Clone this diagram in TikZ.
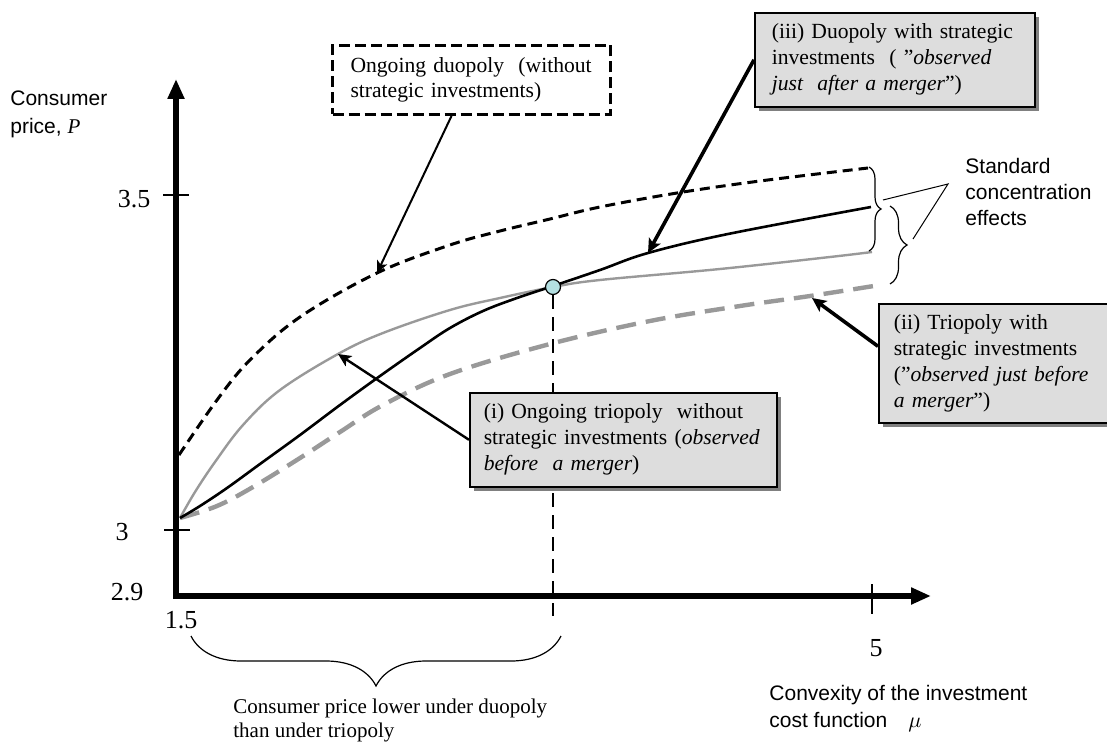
\documentclass[tikz,border=0pt]{standalone}
\usepackage{fontspec}
\setmainfont{Liberation Serif}
\setsansfont{Liberation Sans}
\usetikzlibrary{arrows.meta,shadows,decorations.pathreplacing}
\definecolor{dotcyan}{RGB}{180,224,226}
\definecolor{curvegray}{RGB}{153,153,153}
\definecolor{notegray}{RGB}{221,221,221}

\begin{document}
\begin{tikzpicture}[x=0.5pt,y=-0.5pt]
\useasboundingbox (0,0) rectangle (1107,743);
\tikzset{AxisStyle/.style={line width=2.6pt,{Triangle[length=10pt,width=8pt]}-{Triangle[length=10pt,width=8pt]}}}
\tikzset{TickStyle/.style={inner sep=0pt,font=\fontsize{13}{15}\selectfont}}
\tikzset{SansStyle/.style={inner sep=0pt,anchor=west,align=left,font=\sffamily\fontsize{10.5}{13}\selectfont}}
\tikzset{TextStyle/.style={inner sep=0pt,anchor=west,align=left,font=\fontsize{10.5}{12}\selectfont}}
\tikzset{NoteStyle/.style={draw=black,line width=0.8pt,fill=notegray,anchor=north west,align=left,inner ysep=0pt,font=\fontsize{10.8}{13}\selectfont,drop shadow={shadow xshift=2.2pt,shadow yshift=-2.2pt,fill=black!50,opacity=1}}}
\tikzset{DashNoteStyle/.style={draw=black,line width=1.5pt,dash pattern=on 5.5pt off 2.5pt,fill=white,anchor=north west,align=left,inner ysep=0pt,font=\fontsize{10.8}{12.5}\selectfont}}
\coordinate (ytop) at (176,79);
\coordinate (orig) at (176,596);
\coordinate (xend) at (931,596);
\draw[AxisStyle] (ytop) -- (orig) -- (xend);
\draw[line width=0.6pt] (163,195) -- (189,195);
\draw[line width=0.6pt] (164,530) -- (190,530);
\draw[line width=0.6pt] (872,584) -- (872,614);
\node[TickStyle] (p35) at (134,199) {3.5};
\node[TickStyle] (p3) at (122,532) {3};
\node[TickStyle] (p29) at (127,592) {2.9};
\node[TickStyle] (m15) at (181,620) {1.5};
\node[TickStyle] (m5) at (876,648) {5};
\node[SansStyle,font=\sffamily\fontsize{10.5}{14}\selectfont] (ylabel) at (10,114) {Consumer\\price, \textrm{\textit{P}}};
\node[SansStyle,font=\sffamily\fontsize{10.5}{13.5}\selectfont] (xlabel) at (769,709) {Convexity of the investment\\cost function\quad$\mu$};
\node[SansStyle,font=\sffamily\fontsize{10.5}{12.8}\selectfont] (std) at (965,192) {Standard\\concentration\\effects};
\node[TextStyle] (lower) at (233,720) {Consumer price lower under duopoly\\than under triopoly};
\draw[curvegray,line width=2.2pt,dash pattern=on 10pt off 5pt] plot[smooth,tension=0.6] coordinates {(180,518) (217,506) (253,487) (300,458) (340,432) (383,405) (450,374) (550,344) (650,321) (740,306) (810,296) (880,285)};
\draw[curvegray,line width=1.2pt] plot[smooth,tension=0.6] coordinates {(180,518) (195,492) (215,462) (243,425) (280,390) (338,354) (383,333) (450,310) (500,298) (553,287) (600,280) (720,269) (830,257) (872,252)};
\draw[black,line width=1.3pt] plot[smooth,tension=0.6] coordinates {(180,518) (200,506) (227,488) (260,464) (300,435) (340,405) (380,376) (420,348) (450,328) (483,311) (517,298) (553,286) (600,270) (648,253) (728,234) (871,207)};
\draw[black,line width=1.5pt,dash pattern=on 5pt off 3pt] plot[smooth,tension=0.6] coordinates {(179,455) (217,400) (250,360) (300,317) (377,273) (450,245) (500,231) (550,219) (600,207) (677,193) (760,181) (868,168)};
\coordinate (duo-target) at (377,273);
\coordinate (duo-inv-target) at (648,253);
\coordinate (tri-target) at (338,354);
\coordinate (tri-inv-target) at (812,298);
\coordinate (cross-foot) at (553,616);
\node[circle,draw=black,line width=0.6pt,fill=dotcyan,minimum size=7.5pt,inner sep=0pt] (cross) at (553,287) {};
\draw[line width=0.7pt,dash pattern=on 7pt off 4pt] (cross) -- (cross-foot);
\coordinate (bra-left) at (191,636);
\coordinate (bra-right) at (561,636);
\draw[line width=0.6pt,decorate,decoration={brace,mirror,amplitude=25pt}] (bra-left) -- (bra-right);
\coordinate (bra-top1) at (869,167);
\coordinate (bra-bot1) at (869,251);
\draw[line width=0.6pt,decorate,decoration={brace,amplitude=6pt}] (bra-top1) -- (bra-bot1);
\coordinate (bra-top2) at (890,206);
\coordinate (bra-bot2) at (890,284);
\draw[line width=0.6pt,decorate,decoration={brace,amplitude=8.5pt}] (bra-top2) -- (bra-bot2);
\coordinate (std-pt) at (948,184);
\coordinate (bra-tip1) at (883,200);
\coordinate (bra-tip2) at (913,239);
\draw[line width=0.5pt] (bra-tip1) -- (std-pt) -- (bra-tip2);
\node[DashNoteStyle,inner xsep=9pt,text width=121pt,minimum height=34.5pt] (duo-box) at (331,44) {Ongoing duopoly\ \ (without\\strategic investments)};
\node[NoteStyle,inner xsep=8.5pt,text width=123pt,minimum height=47pt] (duo-inv-box) at (754,12) {(iii) Duopoly with strategic\\investments\ \ ( ”\textit{observed}\\\textit{just\ \ after a merger}”)};
\node[NoteStyle,inner xsep=7pt,text width=139.5pt,minimum height=47pt] (tri-box) at (469,392) {(i) Ongoing triopoly\ \ without\\strategic investments (\textit{observed}\\\textit{before\ \ a merger})};
\node[NoteStyle,inner xsep=7.5pt,text width=120pt,minimum height=59.5pt] (tri-inv-box) at (878,303) {(ii) Triopoly with\\strategic investments\\(”\textit{observed just before}\\\textit{a merger}”)};
\tikzset{EdgeStyle/.style={-{Stealth[length=6pt,width=5.5pt,inset=1.5pt]},line width=1pt}}
\draw[EdgeStyle] ([xshift=-10pt]duo-box.south) -- (duo-target);
\tikzset{EdgeStyle/.style={-{Stealth[length=7pt,width=6.5pt,inset=1.5pt]},line width=1.8pt}}
\draw[EdgeStyle] (duo-inv-box.west) -- (duo-inv-target);
\tikzset{EdgeStyle/.style={-{Stealth[length=6.5pt,width=6pt,inset=1.5pt]},line width=1.2pt}}
\draw[EdgeStyle] (tri-box.west) -- (tri-target);
\tikzset{EdgeStyle/.style={-{Stealth[length=7pt,width=6.5pt,inset=1.5pt]},line width=1.8pt}}
\draw[EdgeStyle] ([yshift=8.5pt]tri-inv-box.west) -- (tri-inv-target);
\end{tikzpicture}
\end{document}
